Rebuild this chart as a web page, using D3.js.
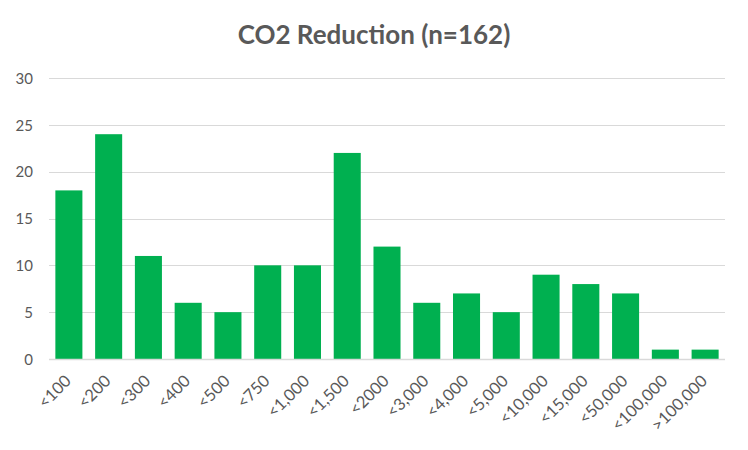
<!DOCTYPE html>
<html>
<head>
<meta charset="utf-8">
<title>CO2 Reduction</title>
<script type="text/javascript" src="https://d3js.org/d3.v7.js"></script>
<style>
  body { margin: 0; background: #fff; }
  text { font-family: Lato, "Open Sans", sans-serif; fill: #595959; }
</style>
</head>
<body>
<script type="text/javascript">
const width = 748;
const height = 450;
const marginTop = 78;
const marginRight = 23;
const marginBottom = 91;
const marginLeft = 49;

// data
const categories = ["<100", "<200", "<300", "<400", "<500", "<750", "<1,000", "<1,500", "<2000",
  "<3,000", "<4,000", "<5,000", "<10,000", "<15,000", "<50,000", "<100,000", ">100,000"];
const counts = [18, 24, 11, 6, 5, 10, 10, 22, 12, 6, 7, 5, 9, 8, 7, 1, 1];
const yTicks = [0, 5, 10, 15, 20, 25, 30];

const svg = d3.select("body")
  .append("svg")
  .attr("width", width)
  .attr("height", height);

const x = d3.scaleBand()
  .domain(categories)
  .range([marginLeft, width - marginRight])
  .paddingInner(0.32)
  .paddingOuter(0.16);

const y = d3.scaleLinear()
  .domain([0, 30])
  .range([height - marginBottom, marginTop]);

// gridlines
svg.append("g")
  .selectAll("line")
  .data(yTicks.filter(d => d > 0))
  .enter().append("line")
  .attr("x1", marginLeft)
  .attr("x2", width - marginRight)
  .attr("y1", d => Math.round(y(d)) + 0.5)
  .attr("y2", d => Math.round(y(d)) + 0.5)
  .attr("stroke", "#d9d9d9")
  .attr("stroke-width", 1);

// bars
svg.append("g")
  .selectAll("rect")
  .data(counts)
  .enter().append("rect")
  .attr("x", (d, i) => x(categories[i]))
  .attr("y", d => y(d))
  .attr("width", x.bandwidth())
  .attr("height", d => y(0) - y(d))
  .attr("fill", "#00b050");

// y axis
const yAxis = svg.append("g")
  .attr("transform", `translate(${marginLeft - 16},0)`)
  .call(d3.axisLeft(y).tickValues(yTicks).tickSize(0).tickPadding(0));
yAxis.select(".domain").remove();
yAxis.selectAll("text").style("font-size", "15px").attr("dy", "0.35em");

// x axis
const xAxis = svg.append("g")
  .attr("transform", `translate(0,${y(0)})`)
  .call(d3.axisBottom(x).tickSize(0).tickPadding(0));
xAxis.select(".domain")
  .attr("stroke", "#d9d9d9")
  .attr("stroke-width", 1.5)
  .attr("d", `M${marginLeft},0.5H${width - marginRight}`);
xAxis.selectAll("text")
  .style("font-size", "16.5px")
  .style("text-anchor", "end")
  .attr("dy", "0.35em")
  .attr("transform", "translate(-1,19) rotate(-45)");

// title
svg.append("text")
  .attr("x", 374)
  .attr("y", 44)
  .attr("text-anchor", "middle")
  .style("font-size", "26px")
  .style("font-weight", "bold")
  .text("CO2 Reduction (n=162)");
</script>
</body>
</html>
